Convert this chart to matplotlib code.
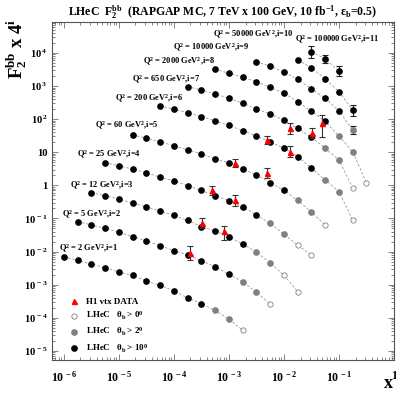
import matplotlib
matplotlib.use("Agg")
import matplotlib.pyplot as plt
from matplotlib.lines import Line2D
from matplotlib.ticker import NullFormatter, LogLocator

plt.rcParams['font.family'] = ['Liberation Serif', 'DejaVu Serif']
plt.rcParams['font.weight'] = 'bold'
plt.rcParams['mathtext.fontset'] = 'custom'
plt.rcParams['mathtext.rm'] = 'Liberation Serif:bold'
plt.rcParams['mathtext.it'] = 'Liberation Serif:italic:bold'
plt.rcParams['mathtext.bf'] = 'Liberation Serif:bold'
plt.rcParams['mathtext.default'] = 'rm'

# x bins of the LHeC pseudo data, 4 per decade
x_bins = [1.0e-6, 1.78e-6, 3.16e-6, 5.62e-6, 1.0e-5, 1.78e-5, 3.16e-5, 5.62e-5,
          1.0e-4, 1.78e-4, 3.16e-4, 5.62e-4, 1.0e-3, 1.78e-3, 3.16e-3, 5.62e-3,
          1.0e-2, 1.78e-2, 3.16e-2, 5.62e-2, 0.1, 0.178, 0.316]

q2_values = [2, 5, 12, 25, 60, 200, 650, 2000, 10000, 50000, 100000]
first_bin = [0, 1, 2, 3, 5, 7, 9, 11, 14, 17, 18]
# points with theta_b > 10 deg, then > 2 deg, rest only > 0 deg
n_black = [11, 12, 12, 12, 12, 12, 10, 9, 7, 5, 3]
n_grey = [2, 2, 2, 2, 2, 2, 2, 2, 1, 0, 0]

# F2bb x 4^i
f2_scaled = [
    [7.01e-3, 5.38e-3, 4.22e-3, 3.20e-3, 2.42e-3, 1.90e-3, 1.29e-3, 9.46e-4, 6.46e-4, 3.96e-4, 2.67e-4, 1.66e-4, 9.08e-5, 4.19e-5],
    [0.0800, 0.0637, 0.0506, 0.0383, 0.0282, 0.0209, 0.0151, 0.0106, 7.89e-3, 5.31e-3, 3.43e-3, 2.10e-3, 1.21e-3, 6.01e-4, 2.56e-4],
    [0.601, 0.489, 0.380, 0.294, 0.222, 0.169, 0.123, 0.0871, 0.0565, 0.0419, 0.0282, 0.0166, 9.72e-3, 4.53e-3, 1.92e-3, 6.15e-4],
    [4.85, 3.91, 3.08, 2.42, 1.76, 1.36, 0.98, 0.70, 0.479, 0.345, 0.218, 0.128, 0.0706, 0.0336, 0.0155, 7.73e-3],
    [33.3, 26.5, 20.9, 15.5, 11.7, 9.02, 6.28, 4.75, 3.06, 2.06, 1.21, 0.711, 0.350, 0.157, 0.0624],
    [251, 199, 157, 119, 88.3, 64.6, 45.0, 31.0, 20.5, 13.2, 7.36, 3.29, 1.46, 0.646, 0.0883],
    [959, 762, 577, 428, 302, 203, 144, 92.7, 52.4, 28.0, 13.2, 5.85, 0.817],
    [3221, 2438, 1845, 1358, 908, 619, 331, 173, 86.5, 30.4, 10.4, 1.16],
    [5236, 4046, 2612, 1603, 817, 428, 177, 47.2],
    [6012, 3597, 1641, 678, 183],
    [10570, 6730, 2761],
]

# visible statistical errors on the LHeC points (series, point, low, high)
mc_err_series = [10, 10, 10, 9, 8]
mc_err_point = [0, 1, 2, 4, 7]
mc_err_lo = [6920, 5090, 2018, 125, 35.7]
mc_err_hi = [16250, 8710, 4046, 269, 62.4]

# H1 vertex data (already x 4^i)
h1_x = [2.0e-4, 3.2e-4, 8.1e-4, 5.0e-4, 1.3e-3, 1.3e-3, 5.0e-3, 5.0e-3, 1.3e-2, 1.3e-2, 3.2e-2, 5.0e-2]
h1_y = [9.1e-3, 0.0706, 0.0419, 0.726, 0.350, 4.65, 2.32, 23.5, 10.4, 53.1, 38.3, 76.7]
h1_lo = [5.4e-3, 0.0499, 0.0224, 0.513, 0.239, 3.60, 1.67, 17.2, 7.21, 35.7, 27.0, 29.0]
h1_hi = [1.43e-2, 0.100, 0.0593, 0.959, 0.513, 6.28, 3.24, 31.0, 15.5, 76.7, 54.2, 134]

# label positions (axes fraction)
label_pos = [(0.0205, 0.328), (0.0284, 0.431), (0.0526, 0.516), (0.0722, 0.607),
             (0.1257, 0.692), (0.1842, 0.772), (0.233, 0.828), (0.267, 0.882),
             (0.355, 0.923), (0.472, 0.962), (0.7105, 0.947)]

fig = plt.figure(figsize=(3.96, 4.0), dpi=100)
ax = fig.add_axes([0.131, 0.10, 0.864, 0.845])
ax.set_xscale('log')
ax.set_yscale('log')
ax.set_xlim(6.05e-7, 1.0)
ax.set_ylim(5.3e-6, 8.6e4)

grey = '#808080'
ms = 3.8
for i, vals in enumerate(f2_scaled):
    xs = x_bins[first_bin[i]:first_bin[i] + len(vals)]
    ax.plot(xs, vals, ls=(0, (3, 2.2)), color='#9a9a9a', lw=0.6, zorder=1)
    nb = n_black[i]
    ng = n_grey[i]
    ax.plot(xs[:nb], vals[:nb], 'o', color='black', ms=ms, zorder=3)
    ax.plot(xs[nb:nb + ng], vals[nb:nb + ng], 'o', color=grey, ms=ms, zorder=3)
    ax.plot(xs[nb + ng:], vals[nb + ng:], 'o', mfc='white', mec=grey, mew=0.6, ms=ms, zorder=3)
    ax.text(label_pos[i][0], label_pos[i][1],
            'Q$^2$ = %d GeV$^2$,i=%d' % (q2_values[i], i + 1),
            transform=ax.transAxes, fontsize=6, ha='left', va='center')

for s, p, lo, hi in zip(mc_err_series, mc_err_point, mc_err_lo, mc_err_hi):
    xv = x_bins[first_bin[s] + p]
    yv = f2_scaled[s][p]
    ax.errorbar([xv], [yv], yerr=[[yv - lo], [hi - yv]], fmt='none',
                ecolor='#222222', elinewidth=0.8, capsize=2, capthick=0.8, zorder=2)

h1_err = [[y - l for y, l in zip(h1_y, h1_lo)], [h - y for y, h in zip(h1_y, h1_hi)]]
ax.errorbar(h1_x, h1_y, yerr=h1_err, fmt='none', ecolor='#333333',
            elinewidth=0.8, capsize=2, capthick=0.8, zorder=4)
ax.plot(h1_x, h1_y, '^', color='red', ms=3.6, zorder=5)

# axes styling
def pow_label(e):
    if e == 0:
        return '1'
    if e == 1:
        return '10'
    return r'$10^{\,%d}$' % e

xt = [-6, -5, -4, -3, -2, -1, 0]
ax.set_xticks([10.0 ** e for e in xt])
ax.set_xticklabels([pow_label(e) for e in xt], fontsize=8.5)
yt = list(range(-5, 5))
ax.set_yticks([10.0 ** e for e in yt])
ax.set_yticklabels([pow_label(e) for e in yt], fontsize=7.7)
ax.xaxis.set_minor_locator(LogLocator(base=10, subs=range(2, 10), numticks=20))
ax.yaxis.set_minor_locator(LogLocator(base=10, subs=range(2, 10), numticks=20))
ax.xaxis.set_minor_formatter(NullFormatter())
ax.yaxis.set_minor_formatter(NullFormatter())
ax.tick_params(which='both', direction='in', top=True, right=True, width=0.5, color='#555555')
ax.tick_params(which='major', length=4)
ax.tick_params(which='minor', length=2)
ax.tick_params(axis='x', pad=7)
ax.tick_params(axis='y', pad=3)
for sp in ax.spines.values():
    sp.set_linewidth(0.8)
    sp.set_color('#555555')

handles = [
    Line2D([], [], ls='none', marker='^', color='red', ms=3.6),
    Line2D([], [], ls='none', marker='o', mfc='white', mec=grey, mew=0.6, ms=ms),
    Line2D([], [], ls='none', marker='o', color=grey, ms=ms),
    Line2D([], [], ls='none', marker='o', color='black', ms=ms),
]
labels = ['H1 vtx DATA', r'LHeC   $\theta_b$ > 0$^0$', r'LHeC   $\theta_b$ > 2$^0$',
          r'LHeC   $\theta_b$ > 10$^0$']
ax.legend(handles, labels, loc='upper left', bbox_to_anchor=(0.051, 0.185),
          frameon=False, fontsize=6.5, handlelength=1.0, handletextpad=0.9,
          labelspacing=0.45, borderpad=0, borderaxespad=0, numpoints=1)

fig.text(0.562, 0.97, r'LHeC  F$_2^{bb}$  (RAPGAP MC, 7 TeV x 100 GeV, 10 fb$^{-1}$, $\epsilon_b$=0.5)',
         ha='center', va='center', fontsize=8.5)
fig.text(0.043, 0.877, r'F$_2^{bb}$ x 4$^i$', rotation=90, ha='center', va='center', fontsize=13.5)
fig.text(0.98, 0.0425, 'x', ha='center', va='center', fontsize=13)

fig.savefig('out.png', dpi=100)
